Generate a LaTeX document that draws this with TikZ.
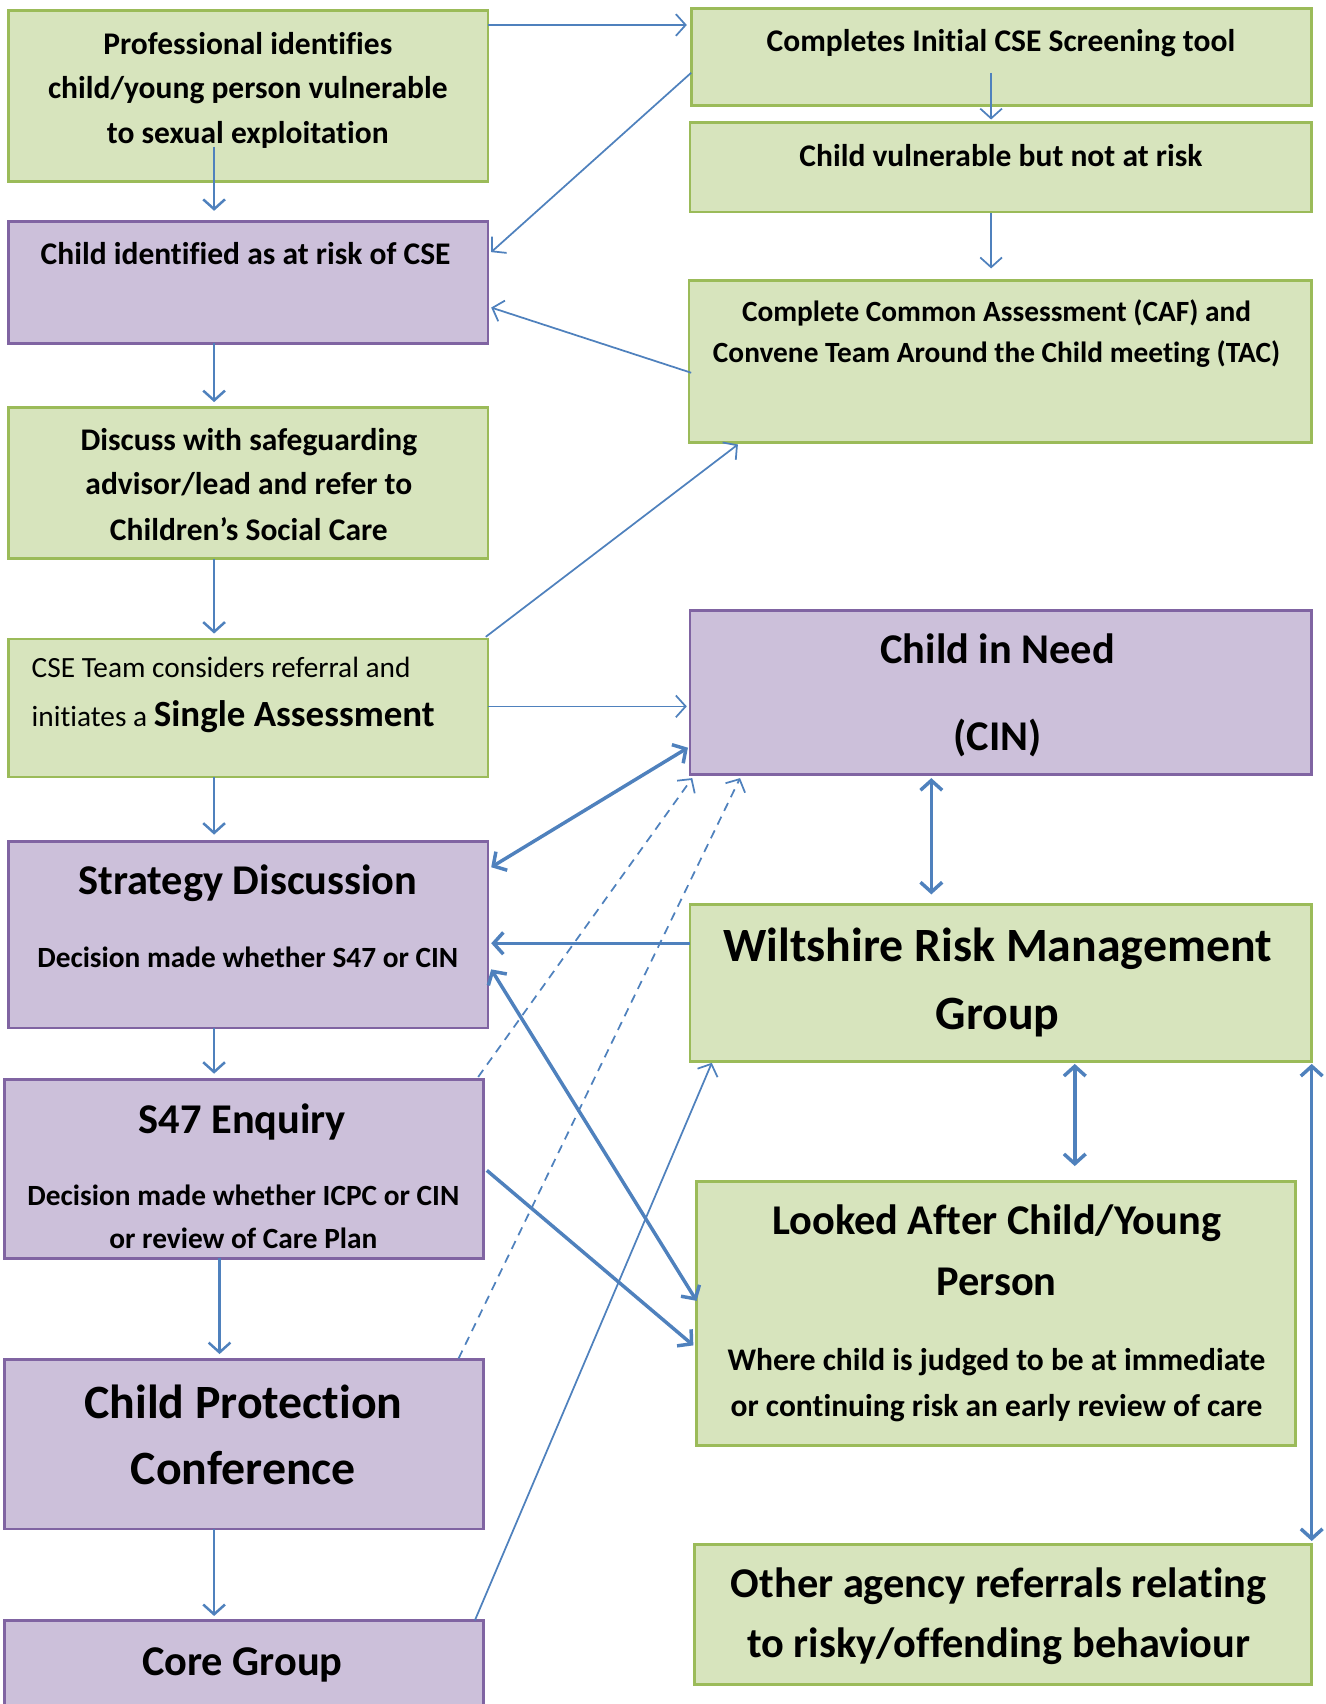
\documentclass[tikz,border=0pt]{standalone}
\usepackage{fontspec}
\setmainfont[Ligatures=NoCommon]{Carlito}
\usetikzlibrary{arrows.meta,calc}
\definecolor{gfill}{HTML}{D7E4BD}
\definecolor{gline}{HTML}{9BBB59}
\definecolor{pfill}{HTML}{CCC0DA}
\definecolor{pline}{HTML}{8064A2}
\definecolor{blu}{HTML}{4F81BD}
\begin{document}
\begin{tikzpicture}[x=1pt,y=-1pt,
  >={Straight Barb[length=9pt,width=20pt]},
  box/.style={rectangle,line width=2.6pt,anchor=north west,inner sep=0pt,outer sep=0pt},
  gbox/.style={box,draw=gline,fill=gfill},
  pbox/.style={box,draw=pline,fill=pfill},
  lbl/.style={anchor=mid,inner sep=0pt,yshift=-8pt,font=\bfseries\fontsize{29}{32}\selectfont},
  dec/.style={anchor=mid,inner sep=0pt,yshift=-7pt,font=\bfseries\fontsize{27}{30}\selectfont},
  big/.style={anchor=mid,inner sep=0pt,yshift=-11pt,font=\bfseries\fontsize{39}{42}\selectfont},
  huge/.style={anchor=mid,inner sep=0pt,yshift=-12pt,font=\bfseries\fontsize{44}{48}\selectfont},
  plain/.style={anchor=mid west,inner sep=0pt,yshift=-7pt,font=\fontsize{27}{30}\selectfont},
  cthin/.style={draw=blu,line width=1.6pt,->},
  cmid/.style={draw=blu,line width=2.3pt,->},
  cthick/.style={draw=blu,line width=3.2pt,->},
  cboth/.style={draw=blu,line width=3.2pt,<->},
  cdash/.style={draw=blu,line width=1.6pt,dash pattern=on 8pt off 6pt,->},
]
\useasboundingbox (0,0) rectangle (1220,1568);
\clip (0,0) rectangle (1220,1568);

% left column
\node[gbox,minimum width=441pt,minimum height=157pt] (b1) at (8,10) {};
\node[pbox,minimum width=441pt,minimum height=112pt] (b2) at (8,204) {};
\node[gbox,minimum width=441pt,minimum height=139pt] (b3) at (8,375) {};
\node[gbox,minimum width=441pt,minimum height=127pt] (b4) at (8,588) {};
\node[pbox,minimum width=441pt,minimum height=172pt] (b5) at (8,774) {};
\node[pbox,minimum width=441pt,minimum height=165pt] (b6) at (4,993) {};
\node[pbox,minimum width=441pt,minimum height=156pt] (b7) at (4,1251) {};
\node[pbox,minimum width=441pt,minimum height=120pt] (b8) at (4,1491) {};
% right column
\node[gbox,minimum width=571pt,minimum height=89pt] (b9) at (636,8) {};
\node[gbox,minimum width=572pt,minimum height=82pt] (b10) at (635,113) {};
\node[gbox,minimum width=573pt,minimum height=149pt] (b11) at (634,258) {};
\node[pbox,minimum width=572pt,minimum height=151pt] (b12) at (635,562) {};
\node[gbox,minimum width=572pt,minimum height=145pt] (b13) at (635,832) {};
\node[gbox,minimum width=551pt,minimum height=243pt] (b14) at (641,1087) {};
\node[gbox,minimum width=568pt,minimum height=129pt] (b15) at (639,1421) {};

% texts
\node[lbl] (t1a) at (228,40) {Professional identifies};
\node[lbl] (t1b) at (228,80) {child/young person vulnerable};
\node[lbl] (t1c) at (228,122) {to sexual exploitation};
\node[lbl] (t2) at (226,233) {Child identified as at risk of CSE};
\node[lbl] (t3a) at (229,404) {Discuss with safeguarding};
\node[lbl] (t3b) at (229,445) {advisor/lead and refer to};
\node[lbl] (t3c) at (229,487) {Children’s Social Care};
\node[plain] (t4a) at (29,614) {CSE Team considers referral and};
\node[plain] (t4b) at (29,659) {initiates a {\bfseries\fontsize{34}{38}\selectfont Single Assessment}};
\node[big] (t5a) at (228,810) {Strategy Discussion};
\node[dec] (t5b) at (228,881) {Decision made whether S47 or CIN};
\node[big] (t6a) at (223,1030) {S47 Enquiry};
\node[dec] (t6b) at (224,1100) {Decision made whether ICPC or CIN};
\node[dec] (t6c) at (224,1139) {or review of Care Plan};
\node[huge] (t7a) at (224,1291) {Child Protection};
\node[huge] (t7b) at (224,1352) {Conference};
\node[big] (t8) at (223,1528) {Core Group};
\node[lbl] (t9) at (921,37) {Completes Initial CSE Screening tool};
\node[lbl] (t10) at (921,143) {Child vulnerable but not at risk};
\node[dec] (t11a) at (917,286) {Complete Common Assessment (CAF) and};
\node[dec] (t11b) at (917,324) {Convene Team Around the Child meeting (TAC)};
\node[big] (t12a) at (918,597) {Child in Need};
\node[big] (t12b) at (918,677) {(CIN)};
\node[huge] (t13a) at (918,870) {Wiltshire Risk Management};
\node[huge] (t13b) at (918,933) {Group};
\node[big] (t14a) at (917,1123) {Looked After Child/Young};
\node[big] (t14b) at (917,1179) {Person};
\node[lbl] (t14c) at (917,1251) {Where child is judged to be at immediate};
\node[lbl] (t14d) at (917,1293) {or continuing risk an early review of care};
\node[big] (t15a) at (919,1457) {Other agency referrals relating};
\node[big] (t15b) at (919,1512) {to risky/offending behaviour};

% connectors
\draw[cthin] ($(b1.north east)+(0,13)$) -- ($(b9.north west)+(-4,15)$);
\draw[cthin] ($(b9.north west)+(0,59)$) -- ($(b2.north east)+(3,28)$);
\draw[cmid] ($(b1.south west)+(189,-32)$) -- ($(b2.north west)+(189,-10)$);
\draw[cthin] ($(b9.north west)+(276,59)$) -- ($(b10.north west)+(277,-3)$);
\draw[cthin] ($(b10.south west)+(277,1)$) -- ($(b11.north west)+(278,-11)$);
\draw[cthin] ($(b11.north west)+(2,85)$) -- ($(b2.north east)+(3,79)$);
\draw[cmid] ($(b2.south west)+(189,0)$) -- ($(b3.north west)+(189,-5)$);
\draw[cmid] ($(b3.south west)+(189,0)$) -- ($(b4.north west)+(189,-5)$);
\draw[cthin] ($(b4.north east)+(-2,-2)$) -- ($(b11.south west)+(45,2)$);
\draw[cthin] ($(b4.north east)+(0,62)$) -- ($(b12.north west)+(-3,88)$);
\draw[cmid] ($(b4.south west)+(189,0)$) -- ($(b5.north west)+(189,-6)$);
\draw[cboth] ($(b5.north east)+(3,24)$) -- ($(b12.north west)+(-2,126)$);
\draw[cthick] ($(b13.north west)+(0,36)$) -- ($(b5.north east)+(3,94)$);
\draw[cmid] ($(b5.south west)+(189,0)$) -- ($(b6.north west)+(193,-5)$);
\draw[cmid] ($(b6.south west)+(198,0)$) -- ($(b7.north west)+(198,-5)$);
\draw[cmid] ($(b7.south west)+(193,0)$) -- ($(b8.north west)+(193,-4)$);
\draw[cdash] ($(b6.north east)+(-5,-2)$) -- ($(b12.south west)+(2,3)$);
\draw[cdash] ($(b7.north east)+(-23,-1)$) -- ($(b12.south west)+(46,3)$);
\draw[cboth] ($(b5.north east)+(3,118)$) -- ($(b14.north west)+(0,110)$);
\draw[cthick] ($(b6.north east)+(3,84)$) -- ($(b14.north west)+(-3,151)$);
\draw[cthin] ($(b8.north east)+(-8,0)$) -- ($(b13.south west)+(20,1)$);
\draw[cboth] ($(b12.south west)+(222,3)$) -- ($(b13.north west)+(222,-9)$);
\draw[cboth] ($(b13.south west)+(354,2)$) -- ($(b14.north west)+(348,-14)$);
\draw[cboth] ($(b13.south east)+(0,2)$) -- ($(b15.north east)+(0,-3)$);
\end{tikzpicture}
\end{document}
